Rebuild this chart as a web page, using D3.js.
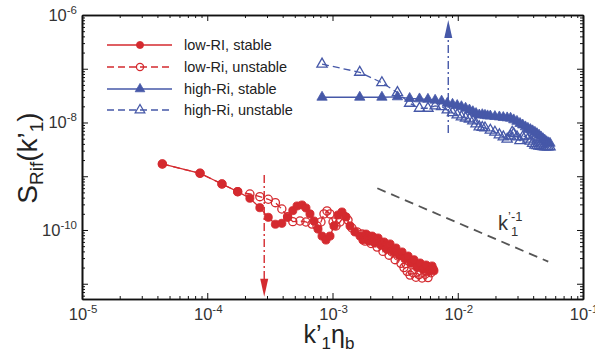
<!DOCTYPE html>
<html>
<head>
<meta charset="utf-8">
<script src="https://cdn.jsdelivr.net/npm/d3@7"></script>
<style>
  body { margin: 0; background: #fff; }
  svg { display: block; font-family: 'Liberation Sans', Arial, sans-serif; }
</style>
</head>
<body>
<div id="chart"></div>
<script>
// ---- data ----
const lowRiStableK = [4.38e-5, 8.76e-5, 1.31e-4, 1.75e-4, 2.19e-4, 2.63e-4, 3.07e-4, 3.50e-4, 3.94e-4, 4.38e-4, 4.82e-4,
  5.21e-4, 5.71e-4, 6.14e-4, 6.61e-4, 7.12e-4, 7.66e-4, 8.25e-4, 8.87e-4, 9.55e-4,
  1.028e-3, 1.107e-3, 1.19e-3, 1.282e-3, 1.38e-3, 1.51e-3, 1.66e-3,
  1.75e-3, 1.85e-3, 1.96e-3, 2.07e-3, 2.18e-3, 2.31e-3, 2.44e-3, 2.58e-3, 2.72e-3, 2.88e-3, 3.04e-3, 3.21e-3,
  3.40e-3, 3.59e-3, 3.79e-3, 4.01e-3, 4.23e-3, 4.47e-3, 4.73e-3, 5.0e-3, 5.28e-3, 5.58e-3, 5.9e-3, 6.23e-3, 6.46e-3];
const lowRiStableS = [1.69e-9, 1.135e-9, 7.18e-10, 5.16e-10, 3.89e-10, 2.60e-10, 1.72e-10, 1.28e-10, 1.33e-10, 1.72e-10, 2.29e-10,
  2.8e-10, 2.92e-10, 2.57e-10, 1.99e-10, 1.47e-10, 1.04e-10, 7.7e-11, 6.5e-11, 7.7e-11,
  1.19e-10, 1.9e-10, 2.16e-10, 1.75e-10, 1.19e-10, 9.2e-11, 7.7e-11,
  6.5e-11, 8.4e-11, 6.2e-11, 7.7e-11, 5.7e-11, 7.1e-11, 5.2e-11, 5.98e-11, 4.4e-11, 5.5e-11, 4.0e-11, 4.62e-11,
  3.4e-11, 3.9e-11, 2.9e-11, 3.28e-11, 2.4e-11, 2.8e-11, 2.0e-11, 2.43e-11, 1.85e-11, 2.23e-11, 1.7e-11, 2.14e-11, 1.75e-11];

const lowRiUnstableK = [4.38e-5, 8.76e-5, 1.31e-4, 1.75e-4, 2.19e-4, 2.63e-4, 3.07e-4, 3.50e-4, 3.94e-4, 4.38e-4, 4.82e-4,
  5.50e-4, 6.14e-4, 6.86e-4, 7.52e-4, 8.09e-4, 8.55e-4, 9.04e-4, 9.55e-4,
  1.01e-3, 1.066e-3, 1.148e-3, 1.235e-3, 1.33e-3, 1.43e-3, 1.57e-3, 1.72e-3,
  1.82e-3, 1.92e-3, 2.03e-3, 2.14e-3, 2.27e-3, 2.39e-3, 2.53e-3, 2.67e-3, 2.83e-3, 2.99e-3, 3.16e-3, 3.33e-3,
  3.52e-3, 3.72e-3, 3.94e-3, 4.16e-3, 4.39e-3, 4.64e-3, 4.91e-3, 5.19e-3, 5.48e-3, 5.79e-3, 6.11e-3, 6.34e-3];
const lowRiUnstableS = [1.69e-9, 1.135e-9, 7.18e-10, 5.16e-10, 4.68e-10, 4.17e-10, 3.73e-10, 3.22e-10, 2.46e-10, 1.77e-10, 1.43e-10,
  1.47e-10, 1.41e-10, 1.29e-10, 1.19e-10, 1.41e-10, 1.99e-10, 2.26e-10, 1.99e-10,
  1.41e-10, 1.19e-10, 1.41e-10, 1.82e-10, 1.53e-10, 1.09e-10, 9.2e-11, 8.4e-11,
  6.2e-11, 7.7e-11, 5.6e-11, 7.1e-11, 4.8e-11, 5.98e-11, 4.0e-11, 5.04e-11, 3.4e-11, 3.9e-11, 2.8e-11, 3.28e-11,
  2.4e-11, 2.0e-11, 1.7e-11, 1.45e-11, 1.6e-11, 1.32e-11, 1.48e-11, 1.28e-11, 1.5e-11, 1.3e-11, 1.6e-11, 1.9e-11];

const highRiStableK = [8.25e-4, 1.65e-3, 2.48e-3, 3.30e-3, 4.13e-3, 4.95e-3, 5.78e-3, 6.60e-3, 7.43e-3, 8.25e-3, 9.08e-3, 9.90e-3,
  1.07e-2, 1.155e-2, 1.24e-2, 1.32e-2, 1.40e-2, 1.485e-2, 1.57e-2, 1.65e-2, 1.73e-2, 1.82e-2, 1.98e-2, 2.15e-2,
  2.31e-2, 2.48e-2, 2.64e-2, 2.80e-2, 2.97e-2, 3.14e-2, 3.30e-2, 3.47e-2, 3.63e-2, 3.80e-2, 3.96e-2, 4.13e-2,
  4.29e-2, 4.46e-2, 4.62e-2, 4.79e-2, 4.95e-2, 5.12e-2, 5.28e-2, 5.45e-2];
const highRiStableS = [2.95e-8, 2.95e-8, 2.95e-8, 3.0e-8, 2.8e-8, 2.75e-8, 2.7e-8, 2.6e-8, 2.5e-8, 2.28e-8, 2.18e-8, 2.07e-8,
  1.97e-8, 1.84e-8, 1.71e-8, 1.59e-8, 1.47e-8, 1.38e-8, 1.40e-8, 1.36e-8, 1.33e-8, 1.32e-8, 1.29e-8, 1.27e-8,
  1.24e-8, 1.22e-8, 1.2e-8, 1.12e-8, 1.05e-8, 9.6e-9, 9.0e-9, 8.3e-9, 7.8e-9, 7.4e-9, 7.0e-9, 6.6e-9,
  6.2e-9, 5.8e-9, 5.4e-9, 5.0e-9, 4.7e-9, 4.4e-9, 4.2e-9, 4.1e-9];

const highRiUnstableK = [8.25e-4, 1.65e-3, 2.48e-3, 3.30e-3, 4.13e-3, 4.95e-3, 5.78e-3, 6.60e-3, 7.43e-3, 8.25e-3, 9.08e-3, 9.90e-3,
  1.07e-2, 1.155e-2, 1.24e-2, 1.32e-2, 1.40e-2, 1.485e-2, 1.57e-2, 1.65e-2, 1.82e-2, 1.98e-2, 2.15e-2, 2.31e-2,
  2.48e-2, 2.64e-2, 2.72e-2, 2.80e-2, 2.97e-2, 3.14e-2, 3.30e-2, 3.47e-2, 3.63e-2, 3.80e-2, 3.96e-2, 4.13e-2,
  4.29e-2, 4.46e-2, 4.62e-2, 4.79e-2, 4.95e-2, 5.12e-2, 5.28e-2, 5.45e-2];
const highRiUnstableS = [1.22e-7, 8.6e-8, 5.5e-8, 3.6e-8, 2.28e-8, 1.84e-8, 1.84e-8, 2.03e-8, 1.97e-8, 1.71e-8, 1.52e-8, 1.38e-8,
  1.27e-8, 1.2e-8, 1.16e-8, 1.07e-8, 9.4e-9, 8.3e-9, 8.1e-9, 7.9e-9, 7.2e-9, 6.6e-9, 5.9e-9, 5.4e-9,
  4.9e-9, 5.6e-9, 6.6e-9, 6.2e-9, 5.4e-9, 4.6e-9, 5.4e-9, 5.6e-9, 4.9e-9, 4.5e-9, 4.1e-9, 3.8e-9,
  3.7e-9, 3.65e-9, 3.6e-9, 3.55e-9, 3.5e-9, 3.5e-9, 3.5e-9, 3.5e-9];

// k^-1 reference line and the two marker arrows
const slopeK = [2.28e-3, 5.28e-2];
const slopeS = [5.97e-10, 2.58e-11];
const arrowK = [2.85e-4, 8.4e-3];
const arrowFromS = [1.05e-9, 6.4e-9];
const arrowToS = [5.7e-12, 8.1e-7];

const xLabelExps = [-5, -4, -3, -2, -1];
const yLabelExps = [-6, -8, -10];
const legendLabels = ['low-RI, stable', 'low-Ri, unstable', 'high-Ri, stable', 'high-Ri, unstable'];

// ---- drawing ----
const red = '#d42a2f';
const blue = '#4658a8';
const W = 595, H = 356;

const svg = d3.select('#chart').append('svg')
  .attr('width', W)
  .attr('height', H);

const x = d3.scaleLog().domain([1e-5, 1e-1]).range([82, 583]);
const y = d3.scaleLog().domain([5.2e-12, 1e-6]).range([299, 15]);

// tick values: decades + 2..9 multiples
const majorX = d3.range(-5, 0).map(e => Math.pow(10, e)).concat([1e-1]);
const minorX = [];
d3.range(-5, -1).forEach(e => d3.range(2, 10).forEach(m => minorX.push(m * Math.pow(10, e))));
const majorY = d3.range(-11, -5).map(e => Math.pow(10, e));
const minorY = [];
d3.range(-12, -6).forEach(e => d3.range(2, 10).forEach(m => {
  const v = m * Math.pow(10, e);
  if (v >= 5.2e-12 && v <= 1e-6) minorY.push(v);
}));

function axisOn(axisFn, scale, values, size, tx, ty) {
  const g = svg.append('g')
    .attr('transform', `translate(${tx},${ty})`)
    .call(axisFn(scale).tickValues(values).tickSizeInner(-size).tickSizeOuter(0).tickFormat(''));
  g.selectAll('line').attr('stroke', '#111').attr('stroke-width', 1);
  g.select('.domain').attr('stroke', '#111').attr('stroke-width', 1.6);
  return g;
}

[[majorX, 6], [minorX, 3]].forEach(([v, s]) => {
  axisOn(d3.axisBottom, x, v, s, 0, 299);
  axisOn(d3.axisTop, x, v, s, 0, 15);
});
[[majorY, 6], [minorY, 3]].forEach(([v, s]) => {
  axisOn(d3.axisLeft, y, v, s, 82, 0);
  axisOn(d3.axisRight, y, v, s, 583, 0);
});

// tick labels with superscripts
function powLabel(g, e, px, py, anchor) {
  const t = g.append('text')
    .attr('x', px)
    .attr('y', py)
    .attr('text-anchor', anchor)
    .attr('fill', '#333')
    .attr('font-size', 16.5);
  t.append('tspan').text('10');
  t.append('tspan').attr('dy', -7).attr('font-size', 11.5).text(e);
  return t;
}
xLabelExps.forEach(e => powLabel(svg, e, x(Math.pow(10, e)) + 1, 320, 'middle'));
yLabelExps.forEach(e => powLabel(svg, e, 77, y(Math.pow(10, e)) + 6, 'end'));

// axis titles
const yt = svg.append('text')
  .attr('transform', 'translate(37,158) rotate(-90)')
  .attr('text-anchor', 'middle')
  .attr('fill', '#222')
  .attr('font-size', 28);
yt.append('tspan').text('S');
yt.append('tspan').attr('dy', 6).attr('font-size', 19).text('Rif');
yt.append('tspan').attr('dy', -6).text('(k\u2019');
yt.append('tspan').attr('dy', 6).attr('font-size', 19).text('1');
yt.append('tspan').attr('dy', -6).text(')');

const xt = svg.append('text')
  .attr('x', 329)
  .attr('y', 343)
  .attr('text-anchor', 'middle')
  .attr('fill', '#222')
  .attr('font-size', 25);
xt.append('tspan').text('k\u2019');
xt.append('tspan').attr('dy', 6).attr('font-size', 17).text('1');
xt.append('tspan').attr('dy', -6).text('\u03b7');
xt.append('tspan').attr('dy', 6).attr('font-size', 17).text('b');

// k^-1 slope line
svg.append('line')
  .attr('x1', x(slopeK[0])).attr('y1', y(slopeS[0]))
  .attr('x2', x(slopeK[1])).attr('y2', y(slopeS[1]))
  .attr('stroke', '#555')
  .attr('stroke-width', 1.8)
  .attr('stroke-dasharray', '9,6');
svg.append('text').attr('x', 498).attr('y', 230).attr('font-size', 20).attr('fill', '#333').text('k');
svg.append('text').attr('x', 508).attr('y', 221).attr('font-size', 13).attr('fill', '#333').text('\u2019-1');
svg.append('text').attr('x', 511).attr('y', 236).attr('font-size', 13).attr('fill', '#333').text('1');

// series
const line = d3.line().x(d => x(d[0])).y(d => y(d[1]));
const circle = d3.symbol().type(d3.symbolCircle).size(52);
const triangle = d3.symbol().type(d3.symbolTriangle).size(46);

const series = [
  { k: lowRiStableK, s: lowRiStableS, color: red, dash: null, sym: circle, open: false },
  { k: lowRiUnstableK, s: lowRiUnstableS, color: red, dash: '7,4', sym: circle, open: true },
  { k: highRiStableK, s: highRiStableS, color: blue, dash: null, sym: triangle, open: false },
  { k: highRiUnstableK, s: highRiUnstableS, color: blue, dash: '7,4', sym: triangle, open: true }
];

function marker(g, ser, px, py, sym) {
  return g.append('path')
    .attr('d', (sym || ser.sym)())
    .attr('transform', `translate(${px},${py})`)
    .attr('fill', ser.open ? 'none' : ser.color)
    .attr('stroke', ser.color)
    .attr('stroke-width', ser.open ? 1.3 : 0.8);
}

series.forEach(ser => {
  const pts = ser.k.map((k, i) => [k, ser.s[i]]);
  const g = svg.append('g');
  g.append('path')
    .attr('d', line(pts))
    .attr('fill', 'none')
    .attr('stroke', ser.color)
    .attr('stroke-width', 1.3)
    .attr('stroke-dasharray', ser.dash);
  pts.forEach(p => marker(g, ser, x(p[0]), y(p[1])));
});

// dash-dot arrows
const arrowColors = [red, blue];
arrowK.forEach((k, i) => {
  const px = x(k), y0 = y(arrowFromS[i]), y1 = y(arrowToS[i]);
  const dir = y1 > y0 ? 1 : -1;
  svg.append('line')
    .attr('x1', px).attr('y1', y0)
    .attr('x2', px).attr('y2', y1 - dir * 16)
    .attr('stroke', arrowColors[i])
    .attr('stroke-width', 1.4)
    .attr('stroke-dasharray', '8,3,2,3');
  svg.append('path')
    .attr('d', `M${px},${y1} L${px - 4},${y1 - dir * 18} L${px + 4},${y1 - dir * 18} Z`)
    .attr('fill', arrowColors[i]);
});

// legend
const legendY = [45, 67, 89, 110];
const legendSym = [d3.symbol().type(d3.symbolCircle).size(40), d3.symbol().type(d3.symbolCircle).size(40),
  d3.symbol().type(d3.symbolTriangle).size(40), d3.symbol().type(d3.symbolTriangle).size(40)];
series.forEach((ser, i) => {
  const ly = legendY[i];
  svg.append('line')
    .attr('x1', 107).attr('x2', 172)
    .attr('y1', ly).attr('y2', ly)
    .attr('stroke', ser.color)
    .attr('stroke-width', 1.3)
    .attr('stroke-dasharray', ser.dash);
  marker(svg, ser, 140, ly, legendSym[i]);
  svg.append('text')
    .attr('x', 184)
    .attr('y', ly + 5)
    .attr('font-size', 14.5)
    .attr('fill', '#222')
    .text(legendLabels[i]);
});
</script>
</body>
</html>
